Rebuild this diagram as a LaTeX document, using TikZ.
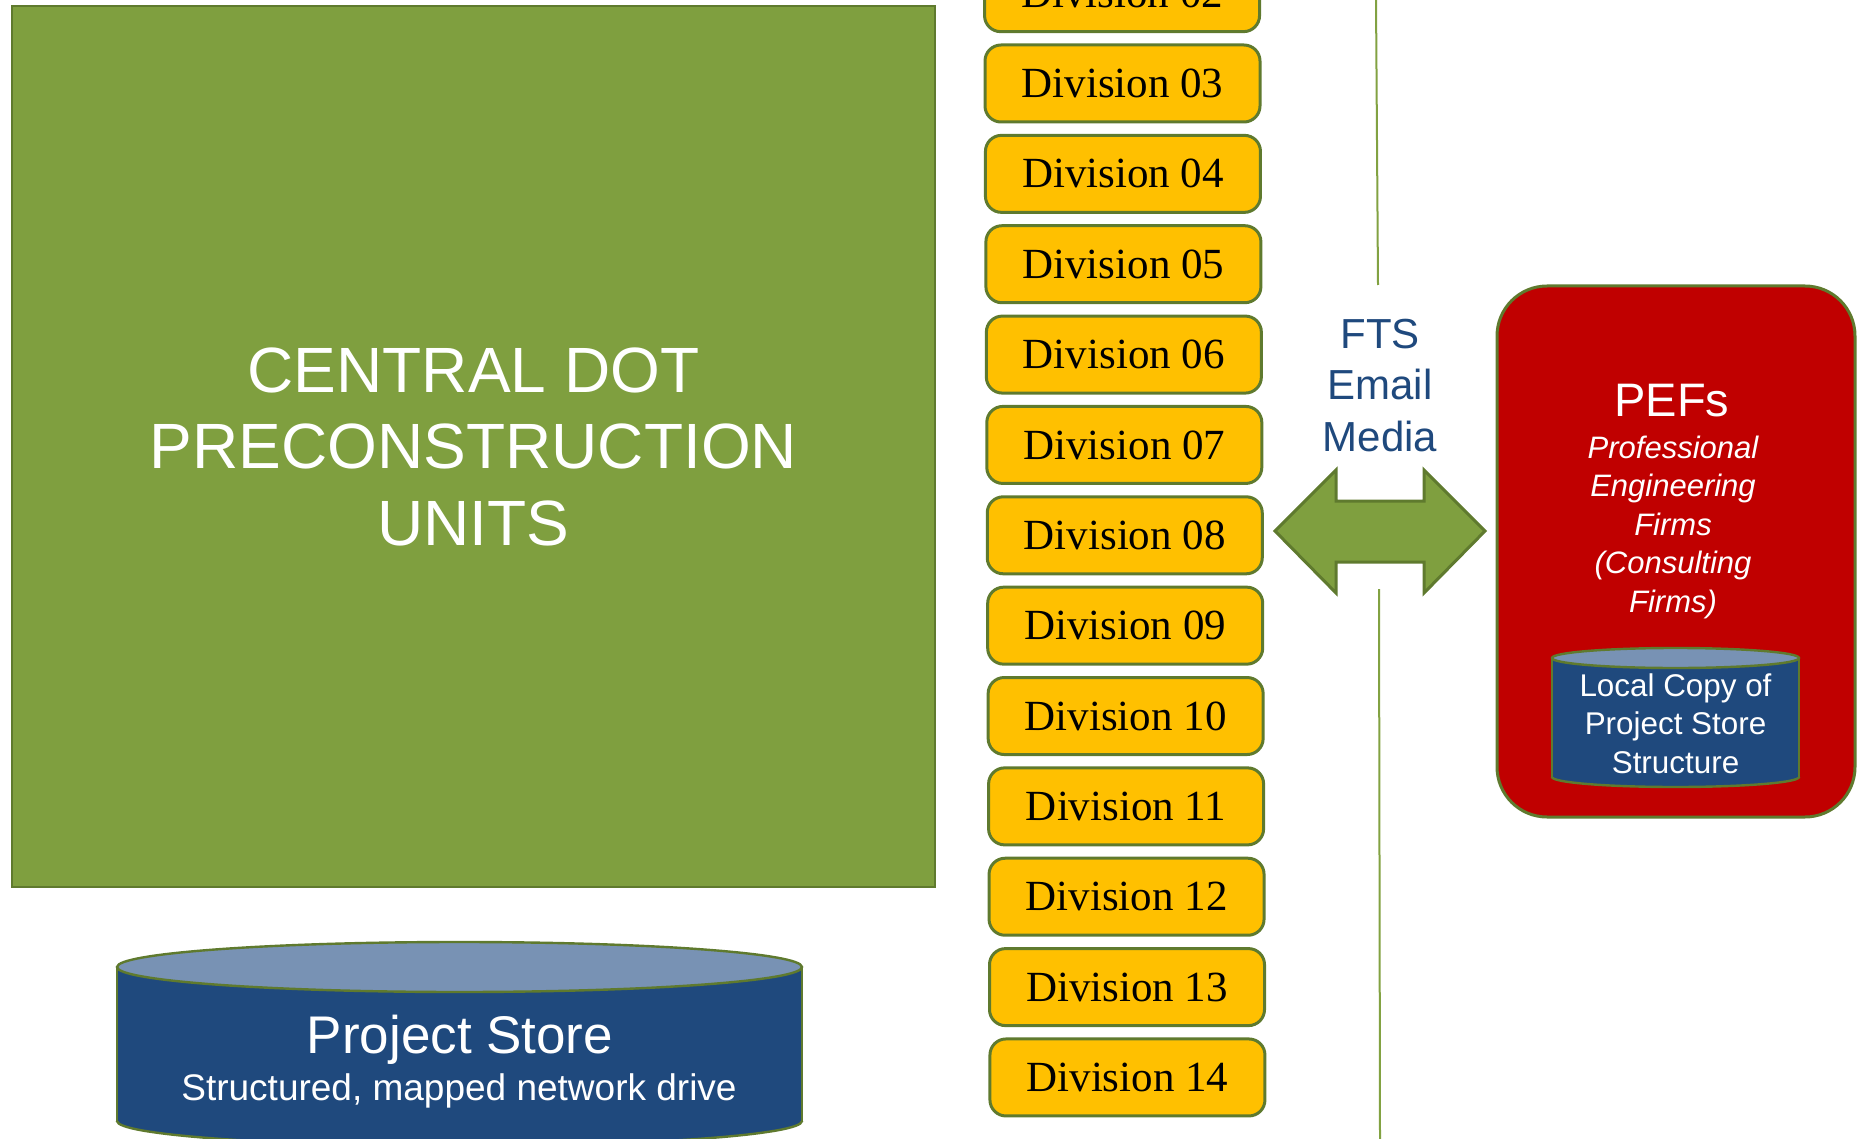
\documentclass[tikz,border=0pt]{standalone}
\usepackage{fontspec}
\setmainfont{Liberation Serif}
\newfontfamily\arialf{Liberation Sans}
\definecolor{olivefill}{RGB}{127,159,63}
\definecolor{olivedark}{RGB}{95,122,46}
\definecolor{oliveline}{RGB}{130,162,66}
\definecolor{amber}{RGB}{255,192,0}
\definecolor{navy}{RGB}{31,73,125}
\definecolor{lightnavy}{RGB}{120,146,180}
\definecolor{darkred}{RGB}{192,0,0}
\begin{document}
\begin{tikzpicture}[x=0.5pt,y=-0.5pt,
  unitbox/.style={draw=olivedark, fill=olivefill, line width=1pt, minimum width=461.5pt, minimum height=440.5pt, inner sep=0pt, text=white, align=center, font=\arialf\fontsize{32}{38.25}\selectfont},
  divbox/.style={draw=olivedark, fill=amber, line width=1.5pt, rounded corners=8pt, minimum width=137.5pt, minimum height=38.5pt, inner sep=0pt, font=\fontsize{21.5}{26}\selectfont},
  pefbox/.style={draw=olivedark, fill=darkred, line width=1.5pt, rounded corners=25pt, minimum width=179pt, minimum height=265.5pt, inner sep=0pt},
  cylbody/.style={fill=navy},
  cyledge/.style={draw=olivedark, line width=1.2pt},
  cyltop/.style={draw=olivedark, fill=lightnavy, line width=1.2pt},
  whitetext/.style={text=white, inner sep=0pt, align=center},
  bluetext/.style={text=navy, inner sep=0pt, align=center, font=\arialf\fontsize{21}{25.75}\selectfont},
  arrowsty/.style={draw=olivedark, fill=olivefill, line width=1.5pt, line join=miter},
  vline/.style={draw=oliveline, line width=1pt}
]
\useasboundingbox (0,0) rectangle (1858,1139);
\clip (0,0) rectangle (1858,1139);

% vertical separator
\coordinate (v1) at (1376,0);
\coordinate (v2) at (1378,285);
\coordinate (v3) at (1379,589);
\coordinate (v4) at (1380,1139);
\draw[vline] (v1) -- (v2);
\draw[vline] (v3) -- (v4);

% central unit
\node[unitbox] (unit) at (473.5,446.5) {CENTRAL DOT\\PRECONSTRUCTION\\UNITS};

% divisions
\foreach \k in {2,...,14}{
  \pgfmathsetmacro{\yy}{83.5+90.36*(\k-3)}
  \pgfmathsetmacro{\xx}{1122.5+0.45*(\k-3)}
  \node[divbox] (div\k) at (\xx,\yy) {Division \ifnum\k<10 0\fi\k};
}

% Project Store cylinder
\coordinate (store) at (459.5,967);
\fill[cylbody] (117,967) rectangle (802,1121);
\fill[cylbody] (459.5,1121) ellipse (342.5 and 25);
\begin{scope}
  \clip (100,1121) rectangle (820,1200);
  \draw[cyledge] (459.5,1121) ellipse (342.5 and 25);
\end{scope}
\draw[cyledge] (117,967) -- (117,1121);
\draw[cyledge] (802,967) -- (802,1121);
\draw[cyltop] (store) ellipse (342.5 and 25);
\node[whitetext, anchor=base, font=\arialf\fontsize{26.5}{30}\selectfont] (storetitle) at (460,1053) {Project Store};
\node[whitetext, anchor=base, font=\arialf\fontsize{18.5}{22}\selectfont] (storesub) at (459,1100) {Structured, mapped network drive};

% FTS text and arrow
\node[bluetext] (fts) at (1380,385.5) {FTS\\Email\\Media};
\draw[arrowsty] (1275,531) -- (1336,470) -- (1336,501) -- (1424,501) -- (1424,470) -- (1485,531) -- (1424,593) -- (1424,562) -- (1336,562) -- (1336,593) -- cycle;

% PEFs box
\node[pefbox] (pefs) at (1676,551.5) {};
\node[whitetext, anchor=base, font=\arialf\fontsize{23.5}{28}\selectfont] (peftitle) at (1672,416) {PEFs};
\node[whitetext, font=\arialf\itshape\fontsize{15.5}{19.25}\selectfont] (pefsub) at (1673,527) {Professional\\Engineering\\Firms\\(Consulting\\Firms)};

% local copy cylinder
\coordinate (local) at (1675.5,658);
\fill[cylbody] (1552,658) rectangle (1799,777);
\fill[cylbody] (1675.5,777) ellipse (123.5 and 10);
\begin{scope}
  \clip (1540,777) rectangle (1810,800);
  \draw[cyledge] (1675.5,777) ellipse (123.5 and 10);
\end{scope}
\draw[cyledge] (1552,658) -- (1552,777);
\draw[cyledge] (1799,658) -- (1799,777);
\draw[cyltop] (local) ellipse (123.5 and 10);
\node[whitetext, font=\arialf\fontsize{15.7}{19.25}\selectfont] (localtext) at (1675.5,723.5) {Local Copy of\\Project Store\\Structure};
\end{tikzpicture}
\end{document}
